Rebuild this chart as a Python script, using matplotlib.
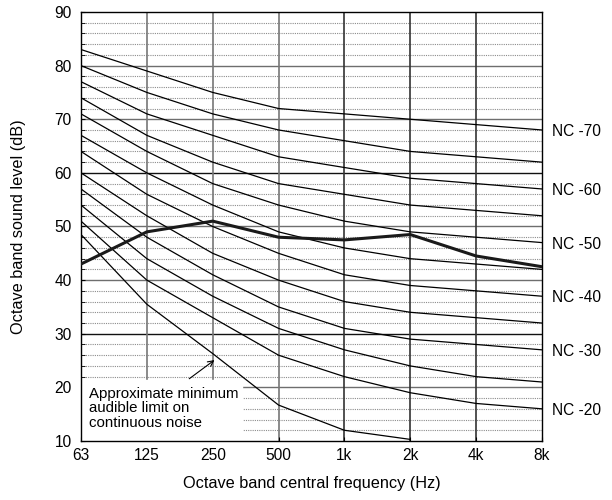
import numpy as np
import matplotlib
matplotlib.use('Agg')
import matplotlib.pyplot as plt

# data
bands = ['63', '125', '250', '500', '1k', '2k', '4k', '8k']
nc_levels = [20, 25, 30, 35, 40, 45, 50, 55, 60, 65, 70]
nc_curves = [
    [51, 40, 33, 26, 22, 19, 17, 16],
    [54, 44, 37, 31, 27, 24, 22, 21],
    [57, 48, 41, 35, 31, 29, 28, 27],
    [60, 52, 45, 40, 36, 34, 33, 32],
    [64, 56, 50, 45, 41, 39, 38, 37],
    [67, 60, 54, 49, 46, 44, 43, 42],
    [71, 64, 58, 54, 51, 49, 48, 47],
    [74, 67, 62, 58, 56, 54, 53, 52],
    [77, 71, 67, 63, 61, 59, 58, 57],
    [80, 75, 71, 68, 66, 64, 63, 62],
    [83, 79, 75, 72, 71, 70, 69, 68],
]
audible_limit = [48.5, 35.5, 26.3, 16.7, 12.0, 10.3]
measured = [43, 49, 51, 48, 47.5, 48.5, 44.5, 42.5]
labelled = [20, 30, 40, 50, 60, 70]

plt.rcParams['font.family'] = ['Liberation Sans', 'DejaVu Sans']

fig = plt.figure(figsize=(6.12, 5.0), dpi=100)
ax = fig.add_axes([81 / 612, 1 - 441 / 500, 461 / 612, 429 / 500])
x = np.arange(len(bands))

# grid: dotted every 2 dB, solid every 10 dB, vertical per band
for v in range(12, 90, 2):
    if v % 10:
        ax.axhline(v, color='#8c8c8c', lw=0.8, ls=(0, (1, 1)), zorder=1)
for v in range(20, 90, 10):
    col = '#111111' if v in (30, 60) else '#6e6e6e'
    ax.axhline(v, color=col, lw=1.0, zorder=1)
for i in x[1:-1]:
    col = '#777777' if i <= 3 else '#333333'
    ax.axvline(i, color=col, lw=1.2, zorder=1)

# white box behind the note
ax.fill_between([0, 2.44], 10, 21.3, color='white', zorder=2)

for lvl, vals in zip(nc_levels, nc_curves):
    ax.plot(x, vals, color='black', lw=0.9, zorder=3)
    if lvl in labelled:
        ax.annotate(f'NC -{lvl}', (x[-1], vals[-1] - 0.3), xytext=(7, 0),
                    textcoords='offset points', va='center', ha='left',
                    fontsize=11.2, annotation_clip=False)
ax.plot(x[:len(audible_limit)], audible_limit, color='black', lw=0.9, zorder=3)
ax.plot(x, measured, color='#1a1a1a', lw=2.2, zorder=4)

ax.text(0.12, 16.1, 'Approximate minimum\naudible limit on\ncontinuous noise',
        fontsize=10.8, va='center', ha='left', linespacing=1.05, zorder=5)
ax.annotate('', xy=(2.06, 25.4), xytext=(1.61, 21.3),
            arrowprops=dict(arrowstyle='->', color='black', lw=0.8), zorder=5)

ax.set_xlim(0, 7)
ax.set_ylim(10, 90)
ax.set_xticks(x)
ax.set_xticklabels(bands, fontsize=11.2)
ax.set_yticks(range(10, 91, 10))
ax.set_yticks(range(12, 90, 2), minor=True)
ax.tick_params(axis='y', labelsize=11.2, direction='in', length=3, pad=6.7)
ax.tick_params(axis='y', which='minor', direction='in', length=3)
ax.tick_params(axis='x', direction='in', length=3, pad=5)
for s in ax.spines.values():
    s.set_linewidth(1.0)

ax.set_xlabel('Octave band central frequency (Hz)', fontsize=11.7)
ax.set_ylabel('Octave band sound level (dB)', fontsize=11.7)
ax.xaxis.set_label_coords(0.5, -0.082)
ax.yaxis.set_label_coords(-0.12, 0.5)

fig.savefig('out.png', dpi=100)
